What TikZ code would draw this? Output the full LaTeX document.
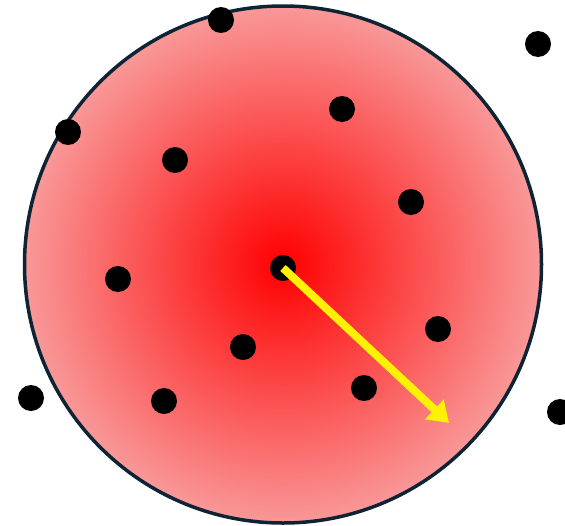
\documentclass[tikz,border=0pt]{standalone}
\usetikzlibrary{arrows.meta}
\definecolor{edgepink}{RGB}{249,152,152}
\definecolor{rimnavy}{RGB}{14,35,52}
\pgfdeclareradialshading{redglow}{\pgfpoint{0bp}{0bp}}{color(0bp)=(red); color(25bp)=(edgepink); color(50bp)=(edgepink)}
\begin{document}
\begin{tikzpicture}[x=1pt,y=-1pt,
  dot/.style={circle,fill=black,minimum size=26pt,inner sep=0pt,outer sep=0pt}]
\useasboundingbox (0,0) rectangle (565,525);
\node[circle,minimum size=517pt,inner sep=0pt,shading=redglow,draw=rimnavy,line width=3.5pt] (disk) at (283,264.5) {};
\node[dot] (c) at (283,268) {};
\node[dot] (p1) at (221,20) {};
\node[dot] (p2) at (538,44) {};
\node[dot] (p3) at (68,132) {};
\node[dot] (p4) at (342,109) {};
\node[dot] (p5) at (175,160) {};
\node[dot] (p6) at (411,202) {};
\node[dot] (p7) at (118,279) {};
\node[dot] (p8) at (438,329) {};
\node[dot] (p9) at (243,347) {};
\node[dot] (p10) at (31,398) {};
\node[dot] (p11) at (164,401) {};
\node[dot] (p12) at (364,388) {};
\node[dot] (p13) at (560,412) {};
\coordinate (tip) at (449,423);
\draw[yellow,line width=8pt,-{Triangle[length=20pt,width=26pt]}] (c.center) -- (tip);
\end{tikzpicture}
\end{document}
